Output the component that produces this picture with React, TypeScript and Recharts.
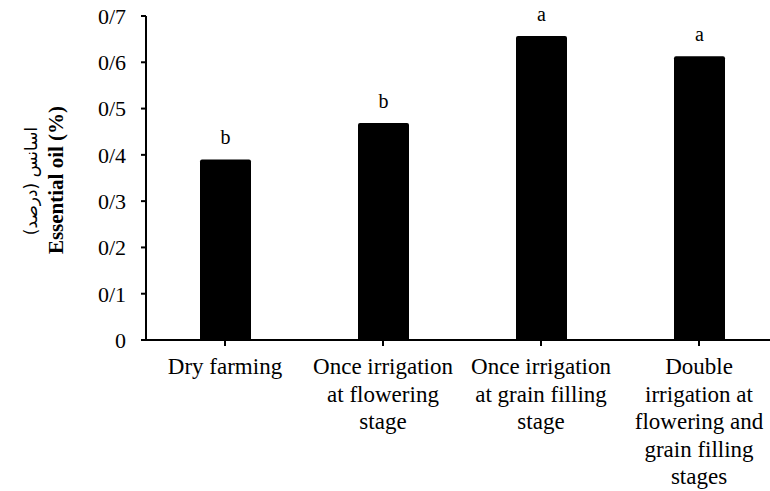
import React from 'react';
import { BarChart, Bar, XAxis, YAxis, LabelList } from 'recharts';

const categories = [
  'Dry farming',
  'Once irrigation\nat flowering\nstage',
  'Once irrigation\nat grain filling\nstage',
  'Double\nirrigation at\nflowering and\ngrain filling\nstages',
];
const essentialOil = [0.39, 0.469, 0.657, 0.613];
const groupLetters = ['b', 'b', 'a', 'a'];
const yTicks = [0, 0.1, 0.2, 0.3, 0.4, 0.5, 0.6, 0.7];
const yTickLabels = ['0', '0/1', '0/2', '0/3', '0/4', '0/5', '0/6', '0/7'];

const data = categories.map((name, i) => ({
  name,
  oil: essentialOil[i],
  letter: groupLetters[i],
}));

const serif = "'Liberation Serif', 'Times New Roman', serif";

const CategoryTick = ({ x, y, payload }: any) => {
  const lines = String(payload.value).split('\n');
  return (
    <text x={x} y={y + 26} textAnchor="middle" fontFamily={serif} fontSize={23} fill="#000">
      {lines.map((line, i) => (
        <tspan key={i} x={x} dy={i === 0 ? 0 : 27.5}>
          {line}
        </tspan>
      ))}
    </text>
  );
};

const AxisTitle = () => (
  <g>
    <text
      x={56}
      y={180}
      transform="rotate(-90 56 180)"
      textAnchor="middle"
      dominantBaseline="central"
      fontFamily={serif}
      fontWeight="bold"
      fontSize={21}
      fill="#000"
    >
      Essential oil (%)
    </text>
    <text
      x={31}
      y={181}
      transform="rotate(-90 31 181)"
      textAnchor="middle"
      dominantBaseline="central"
      fontFamily="'DejaVu Sans', 'Noto Sans', sans-serif"
      fontSize={17}
      direction="rtl"
      fill="#000"
    >
      اسانس (درصد)
    </text>
  </g>
);

export default function App() {
  return (
    <div style={{ position: 'absolute', left: 0, top: 0, width: 770, height: 491, overflow: 'hidden', background: '#fff' }}>
      <BarChart width={778} height={491} data={data} margin={{ top: 16, right: 0, left: 0, bottom: 0 }}>
        <XAxis
          dataKey="name"
          height={151}
          interval={0}
          tick={<CategoryTick />}
          tickSize={6}
          tickMargin={2}
          axisLine={{ stroke: '#000', strokeWidth: 2 }}
          tickLine={{ stroke: '#000', strokeWidth: 2 }}
        />
        <YAxis
          width={146}
          domain={[0, 0.7]}
          ticks={yTicks}
          interval={0}
          tickFormatter={(v: number) => yTickLabels[Math.round(v * 10)]}
          tick={{ fontFamily: serif, fontSize: 22, fill: '#000' }}
          tickSize={5}
          tickMargin={15}
          axisLine={{ stroke: '#000', strokeWidth: 2 }}
          tickLine={{ stroke: '#000', strokeWidth: 2 }}
          label={{ content: () => <AxisTitle /> }}
        />
        <Bar dataKey="oil" fill="#000" barSize={51} radius={[2, 2, 0, 0]} isAnimationActive={false}>
          <LabelList dataKey="letter" position="top" offset={15} fontFamily={serif} fontSize={20} fill="#000" />
        </Bar>
      </BarChart>
    </div>
  );
}
